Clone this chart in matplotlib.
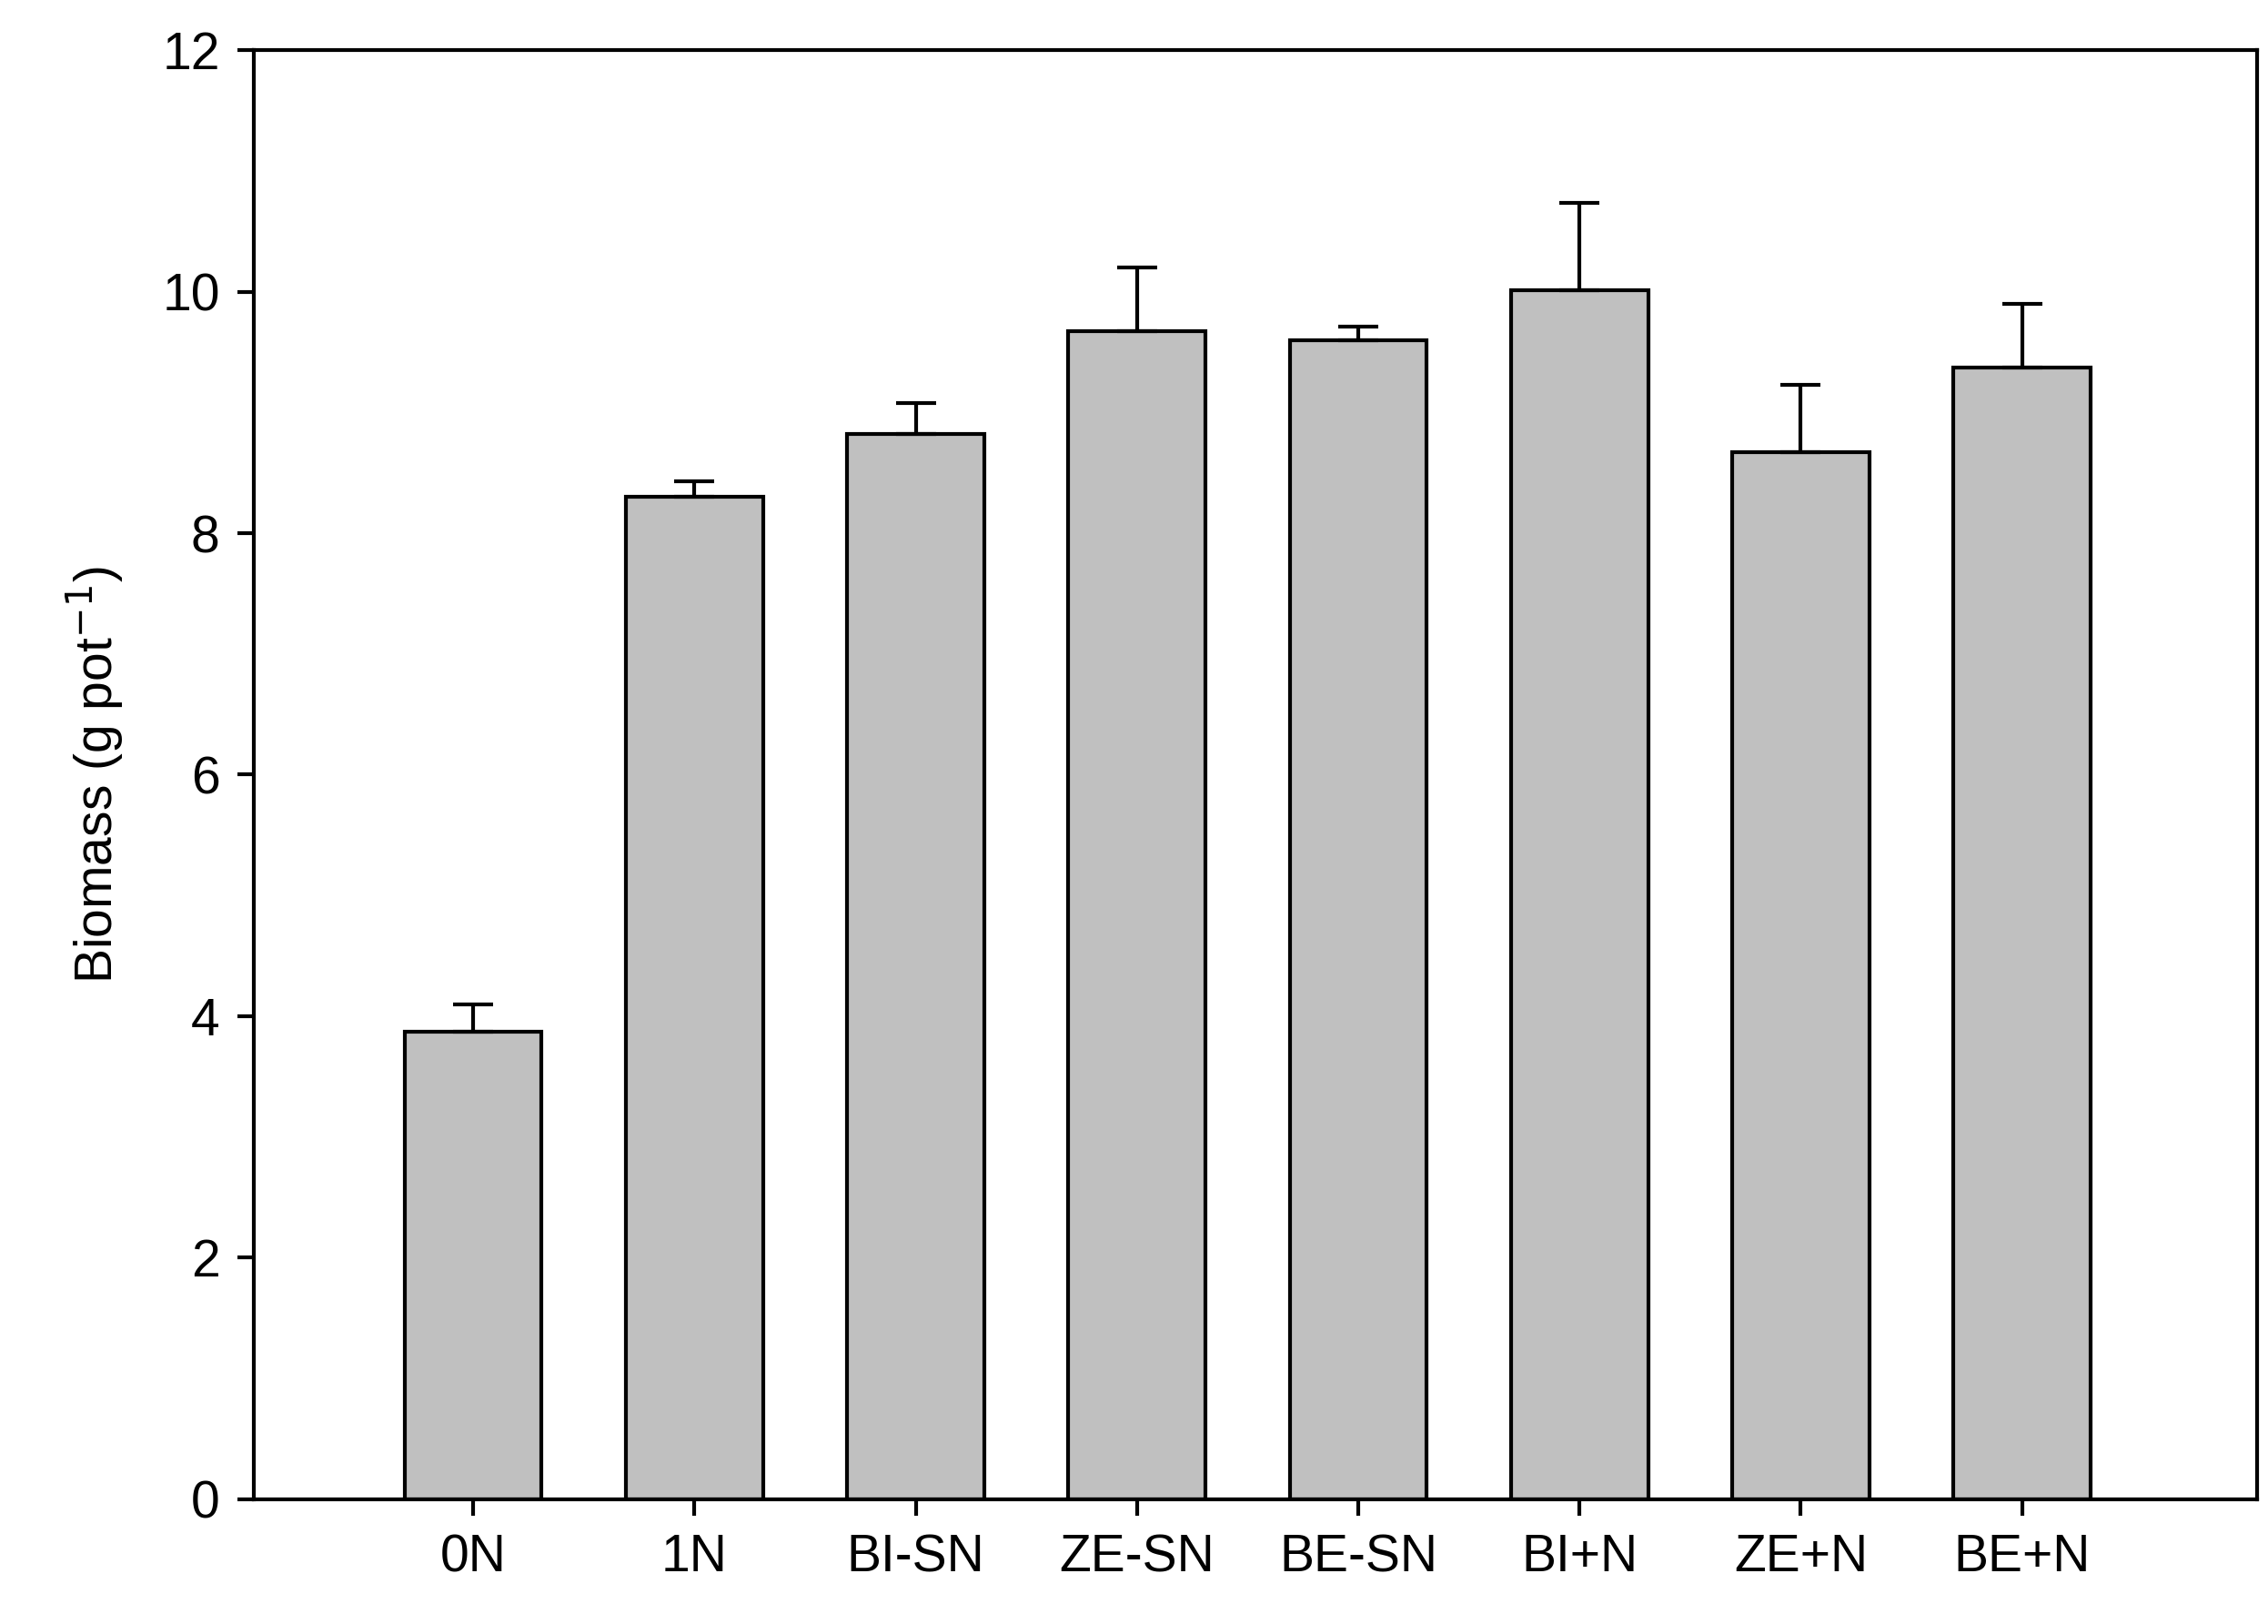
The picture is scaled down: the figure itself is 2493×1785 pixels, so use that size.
import matplotlib
matplotlib.use('Agg')
import matplotlib.pyplot as plt
import numpy as np

plt.rcParams['font.family'] = ['Liberation Sans', 'DejaVu Sans']

labels = ['0N', '1N', 'BI-SN', 'ZE-SN', 'BE-SN', 'BI+N', 'ZE+N', 'BE+N']
biomass = [3.87, 8.30, 8.82, 9.67, 9.60, 10.01, 8.67, 9.37]
err = [0.23, 0.13, 0.26, 0.53, 0.11, 0.73, 0.56, 0.53]

fig = plt.figure(figsize=(24.93, 17.85), dpi=100)
ax = fig.add_axes([0.112, 0.077, 0.883, 0.892])

x = np.arange(len(labels))
ax.bar(x, biomass, width=0.62, color='#c0c0c0', edgecolor='black', linewidth=3, zorder=2)
ax.errorbar(x, biomass, yerr=[np.zeros(len(err)), err], fmt='none', ecolor='black',
            elinewidth=3, capsize=16, capthick=3, zorder=3)

ax.set_xlim(-0.99, 8.06)
ax.set_ylim(0, 12)
ax.set_yticks([0, 2, 4, 6, 8, 10, 12])
ax.set_xticks(x)
ax.set_xticklabels(labels)
ax.tick_params(axis='both', labelsize=41, width=3, length=13, direction='out', pad=14)
for s in ax.spines.values():
    s.set_linewidth(3)
ax.set_ylabel('Biomass (g pot$^{-1}$)', fontsize=41, labelpad=28)

fig.savefig('out.png', dpi=100)
